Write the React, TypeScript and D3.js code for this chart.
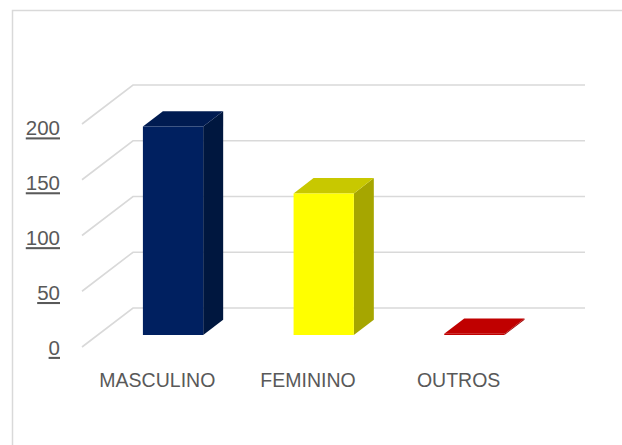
import React from "react";
import * as d3 from "d3";

const categories = ["MASCULINO", "FEMININO", "OUTROS"];
const values = [187, 127, 1];
const tickValues = [0, 50, 100, 150, 200];
const frontColors = ["#002060", "#FFFF00", "#C00000"];
const topColors = ["#001B51", "#C8C800", "#C00000"];
const sideColors = ["#00173F", "#A6A600", "#9A0000"];

const W = 622;
const H = 445;
// 3D layout
const floorX0 = 82;
const floorW = 452;
const front0Y = 347;
const depthDX = 51;
const depthDY = -39;
const barD0 = 0.308;
const barD1 = 0.7;

export default function App() {
  const x = d3.scaleBand<string>().domain(categories).range([0, floorW]).paddingInner(0.6).paddingOuter(0.3);
  const y = d3.scaleLinear().domain([0, 200]).range([0, 223]);
  const labelY = d3.scaleLinear().domain([0, 200]).range([347.5, 128]);

  const P = (xu: number, v: number, d: number): [number, number] => [
    floorX0 + xu + depthDX * d,
    front0Y - y(v) + depthDY * d,
  ];
  const pts = (arr: [number, number][]) => arr.map((p) => p.join(",")).join(" ");

  const grid = "#D9D9D9";

  return (
    <svg width={W} height={H} style={{ position: "absolute", left: 0, top: 0, display: "block" }}>
      <rect x={0} y={0} width={W} height={H} fill="#fff" />
      <rect x={12.5} y={10.5} width={W + 20} height={H + 20} fill="none" stroke="#D9D9D9" strokeWidth={1.5} />
      {tickValues.map((t) => {
        const a = P(0, t, 0);
        const b = P(0, t, 1);
        const c = P(floorW, t, 1);
        return (
          <polyline key={t} points={pts([a, b, c])} fill="none" stroke={grid} strokeWidth={1.6} />
        );
      })}
      {categories.map((cat, i) => {
        const x0 = x(cat)!;
        const x1 = x0 + x.bandwidth();
        const v = values[i];
        const fbl = P(x0, 0, barD0);
        const fbr = P(x1, 0, barD0);
        const ftl = P(x0, v, barD0);
        const ftr = P(x1, v, barD0);
        const btl = P(x0, v, barD1);
        const btr = P(x1, v, barD1);
        const bbr = P(x1, 0, barD1);
        return (
          <g key={cat}>
            <polygon points={pts([fbr, ftr, btr, bbr])} fill={sideColors[i]} />
            <polygon points={pts([ftl, ftr, btr, btl])} fill={topColors[i]} />
            <polygon points={pts([fbl, fbr, ftr, ftl])} fill={frontColors[i]} />
          </g>
        );
      })}
      {tickValues.map((t) => (
        <text
          key={"l" + t}
          x={60}
          y={labelY(t)}
          dy="0.36em"
          textAnchor="end"
          fontFamily="'Liberation Sans', Arial, sans-serif"
          fontSize={20.5}
          fill="#595959"
          textDecoration="underline"
          style={{ textDecoration: "underline" }}
        >
          {t}
        </text>
      ))}
      {categories.map((cat) => (
        <text
          key={"c" + cat}
          x={floorX0 + x(cat)! + x.bandwidth() / 2}
          y={387}
          textAnchor="middle"
          fontFamily="'Liberation Sans', Arial, sans-serif"
          fontSize={19.5}
          fill="#595959"
        >
          {cat}
        </text>
      ))}
    </svg>
  );
}
